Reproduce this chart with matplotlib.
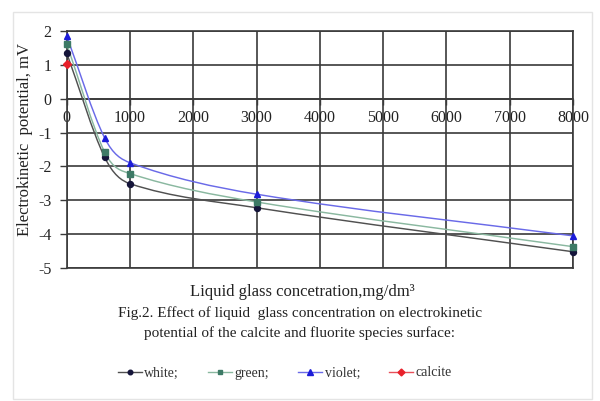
import numpy as np
import matplotlib
matplotlib.use("Agg")
import matplotlib.pyplot as plt
from matplotlib.path import Path
from matplotlib.patches import PathPatch, Rectangle
from matplotlib.lines import Line2D

plt.rcParams['font.family'] = ['Liberation Serif', 'DejaVu Serif']

conc = [0, 600, 1000, 3000, 8000]
white = [1.35, -1.73, -2.51, -3.22, -4.52]
green = [1.62, -1.58, -2.21, -3.05, -4.37]
violet = [1.85, -1.16, -1.89, -2.82, -4.05]
calcite_x = [0]
calcite = [1.02]

series = [
    ("white;", white, "#505050", "#15153a", "o", 4.3),
    ("green;", green, "#8ab8a0", "#3d7a66", "s", 4.0),
    ("violet;", violet, "#6a6ae8", "#1c1cd8", "^", 5.0),
]

xticks = [0, 1000, 2000, 3000, 4000, 5000, 6000, 7000, 8000]
yticks = [2, 1, 0, -1, -2, -3, -4, -5]

fig = plt.figure(figsize=(6.0, 4.01), dpi=100)
fig.patches.append(Rectangle((13/600, 2/401), 579/600, 387/401, transform=fig.transFigure,
                             fill=False, edgecolor="#e4e4e4", linewidth=1.0))
ax = fig.add_axes([66.7/600, 1-268/401, (573-66.7)/600, (268-31)/401])
ax.set_xlim(0, 8000)
ax.set_ylim(-5, 2)


def smooth_path(xs, ys):
    pts = np.column_stack([xs, ys]).astype(float)
    n = len(pts)
    verts = [pts[0]]
    codes = [Path.MOVETO]
    for i in range(n - 1):
        p0 = pts[i - 1] if i > 0 else pts[i]
        p1 = pts[i]
        p2 = pts[i + 1]
        p3 = pts[i + 2] if i + 2 < n else pts[i + 1]
        d1 = (p2 - p0)
        d2 = (p3 - p1)
        s1 = (p2[0] - p1[0]) / max(p2[0] - p0[0], 1e-9)
        s2 = (p2[0] - p1[0]) / max(p3[0] - p1[0], 1e-9)
        c1 = p1 + d1 * s1 / 3.0
        c2 = p2 - d2 * s2 / 3.0
        verts += [c1, c2, p2]
        codes += [Path.CURVE4] * 3
    return Path(verts, codes)


for label, ys, lc, mc, mk, ms in series:
    ax.add_patch(PathPatch(smooth_path(conc, ys), fill=False, edgecolor=lc, linewidth=1.05, zorder=3))
    ax.plot(conc, ys, linestyle="none", marker=mk, color=mc, markersize=ms, zorder=4, clip_on=False)
ax.plot(calcite_x, calcite, linestyle="none", marker="D", color="#e8202a", markersize=4.0, zorder=5, clip_on=False)

ax.set_xticks(xticks)
ax.set_yticks(yticks)
ax.grid(True, color="#3a3a3a", linewidth=1.2)
ax.set_axisbelow(True)
for s in ax.spines.values():
    s.set_color("#3a3a3a")
    s.set_linewidth(1.2)
ax.spines['bottom'].set_position(('data', 0))
ax.axhline(-5, color="#3a3a3a", linewidth=1.2, clip_on=False, zorder=2)
ax.tick_params(axis='x', length=4, width=1.0, color="#3a3a3a", pad=4, labelsize=11.5, labelcolor="#222222")
ax.tick_params(axis='y', length=5, width=1.0, color="#3a3a3a", pad=6, labelsize=11.5, labelcolor="#222222")
ax.set_xticklabels([str(v) for v in xticks])
ax.set_yticklabels([str(v) for v in yticks])

fig.text(25/600, 1-140/401, "Electrokinetic  potential, mV", rotation=90, ha="center", va="center",
         fontsize=12, color="#222222")
fig.text(302/600, 1-292/401, "Liquid glass concetration,mg/dm\u00b3", ha="center", va="center",
         fontsize=12, color="#222222")
fig.text(300/600, 1-313/401, "Fig.2. Effect of liquid  glass concentration on electrokinetic", ha="center",
         va="center", fontsize=11, color="#222222")
fig.text(300/600, 1-333/401, "potential of the calcite and fluorite species surface:", ha="center",
         va="center", fontsize=11, color="#222222")

handles = [Line2D([], [], color=lc, marker=mk, markerfacecolor=mc, markeredgecolor=mc, markersize=ms-1, linewidth=1.0)
           for _, _, lc, mc, mk, ms in series]
handles.append(Line2D([], [], color="#e8505a", marker="D", markerfacecolor="#e8202a",
                      markeredgecolor="#e8202a", markersize=3.5, linewidth=1.0))
labels = [s[0] for s in series] + ["calcite"]
fig.legend(handles, labels, loc="center", bbox_to_anchor=(285/600, 1-373/401), ncol=4, frameon=False,
           fontsize=10, handlelength=1.7, handletextpad=0.2, columnspacing=2.1, labelcolor="#333333")

fig.savefig("out.png", dpi=100, facecolor="white")
